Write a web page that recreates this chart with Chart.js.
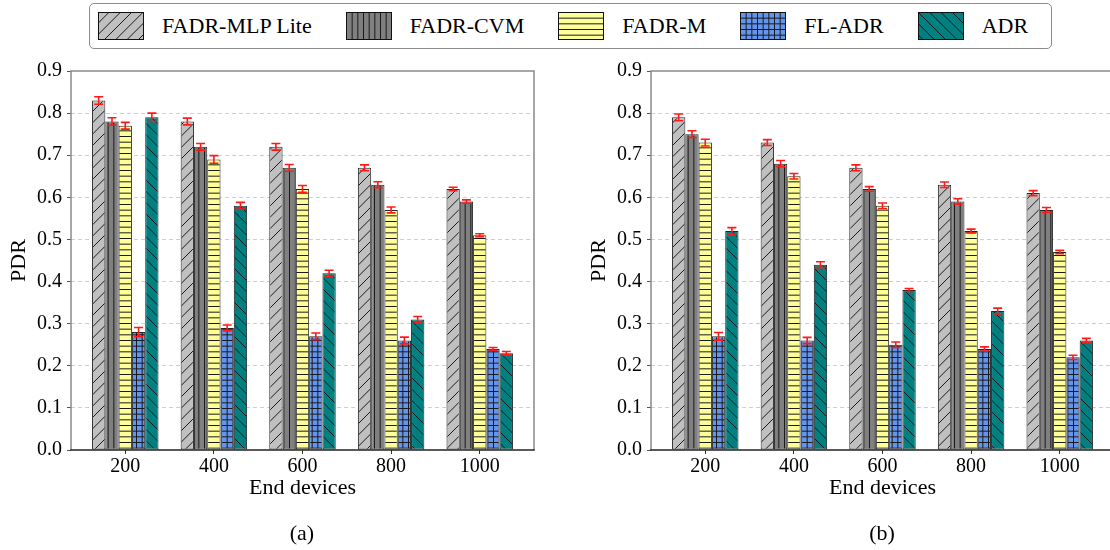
<!DOCTYPE html>
<html>
<head>
<meta charset="utf-8">
<script src="https://cdn.jsdelivr.net/npm/chart.js@4.4.0/dist/chart.umd.min.js"></script>
<style>
  html, body { margin: 0; padding: 0; background: #fff; width: 1110px; height: 550px; overflow: hidden; }
  body { position: relative; font-family: 'Liberation Serif', 'Times New Roman', serif; }
  canvas.chart { position: absolute; top: 0; }
  #legend { position: absolute; left: 89px; top: 3px; width: 953px; height: 44px; border: 1.5px solid #8c8c8c; border-radius: 5px; background: #fff; display: flex; align-items: center; padding-left: 8px; box-sizing: content-box; }
  .item { display: flex; align-items: center; margin-right: 34px; }
  .item canvas { display: block; margin-right: 18px; }
  .item span { font-size: 22px; color: #000; line-height: 1; white-space: nowrap; }
  .cap { position: absolute; top: 520px; width: 100px; text-align: center; font-size: 22px; color: #000; }
</style>
</head>
<body>
<div id="legend"></div>
<canvas id="chartA" class="chart" width="560" height="550" style="left:0px"></canvas>
<canvas id="chartB" class="chart" width="560" height="550" style="left:580px"></canvas>
<div class="cap" style="left:252px">(a)</div>
<div class="cap" style="left:832px">(b)</div>
<script>
// ---------- data ----------
const categories = [200, 400, 600, 800, 1000];
const seriesNames = ['FADR-MLP Lite', 'FADR-CVM', 'FADR-M', 'FL-ADR', 'ADR'];
const yTickValues = [0, 0.1, 0.2, 0.3, 0.4, 0.5, 0.6, 0.7, 0.8, 0.9];

// (a)
const mlpA = [0.83, 0.78, 0.72, 0.67, 0.62];
const cvmA = [0.78, 0.72, 0.67, 0.63, 0.59];
const mA   = [0.77, 0.69, 0.62, 0.57, 0.51];
const flA  = [0.28, 0.29, 0.27, 0.26, 0.24];
const adrA = [0.79, 0.58, 0.42, 0.31, 0.23];
const mlpAErr = [0.009, 0.008, 0.008, 0.007, 0.004];
const cvmAErr = [0.009, 0.008, 0.008, 0.007, 0.004];
const mAErr   = [0.008, 0.009, 0.008, 0.007, 0.0035];
const flAErr  = [0.011, 0.007, 0.008, 0.008, 0.0035];
const adrAErr = [0.010, 0.008, 0.007, 0.007, 0.004];

// (b)
const mlpB = [0.79, 0.73, 0.67, 0.63, 0.61];
const cvmB = [0.75, 0.68, 0.62, 0.59, 0.57];
const mB   = [0.73, 0.65, 0.58, 0.52, 0.47];
const flB  = [0.27, 0.26, 0.25, 0.24, 0.22];
const adrB = [0.52, 0.44, 0.38, 0.33, 0.26];
const mlpBErr = [0.008, 0.007, 0.007, 0.0065, 0.006];
const cvmBErr = [0.008, 0.0075, 0.0055, 0.0065, 0.006];
const mBErr   = [0.008, 0.0065, 0.0065, 0.0045, 0.004];
const flBErr  = [0.009, 0.0075, 0.0065, 0.005, 0.005];
const adrBErr = [0.008, 0.007, 0.0035, 0.007, 0.005];

// ---------- styles ----------
const fills = ['#c0c0c0', '#808080', '#ffff99', '#6495ed', '#008080'];
const hatchKinds = ['fwd', 'v', 'h', 'grid', 'back'];

function makePattern(bg, kind) {
  const s = 34, n = 6, d = s / n;
  const c = document.createElement('canvas');
  c.width = s; c.height = s;
  const g = c.getContext('2d');
  g.fillStyle = bg; g.fillRect(0, 0, s, s);
  g.strokeStyle = '#1a1a1a'; g.lineWidth = 1;
  g.beginPath();
  if (kind === 'h' || kind === 'grid') {
    for (let k = 0; k < n; k++) { const y = k * d + 0.5; g.moveTo(0, y); g.lineTo(s, y); }
  }
  if (kind === 'v' || kind === 'grid') {
    for (let k = 0; k < n; k++) { const x = k * d + 0.5; g.moveTo(x, 0); g.lineTo(x, s); }
  }
  if (kind === 'fwd') {
    const dd = s / 3;
    for (let k = 0; k <= 6; k++) { const c0 = k * dd; g.moveTo(c0 + 2, -2); g.lineTo(c0 - s - 2, s + 2); }
  }
  if (kind === 'back') {
    const dd = s / 3;
    for (let k = -3; k <= 3; k++) { const c0 = k * dd; g.moveTo(c0 - 2, -2); g.lineTo(c0 + s + 2, s + 2); }
  }
  g.stroke();
  return g.createPattern(c, 'repeat');
}

const FONT = "'Liberation Serif', 'Times New Roman', serif";
Chart.defaults.font.family = FONT;
Chart.defaults.color = '#000';

// legend (HTML)
const legendEl = document.getElementById('legend');
seriesNames.forEach((name, i) => {
  const it = document.createElement('div'); it.className = 'item';
  const cv = document.createElement('canvas'); cv.width = 46; cv.height = 28;
  const g = cv.getContext('2d');
  g.fillStyle = makePattern(fills[i], hatchKinds[i]);
  g.fillRect(0, 0, 46, 28);
  g.strokeStyle = '#111'; g.lineWidth = 1; g.strokeRect(0.5, 0.5, 45, 27);
  const sp = document.createElement('span'); sp.textContent = name;
  it.appendChild(cv); it.appendChild(sp);
  legendEl.appendChild(it);
});

const errorBarPlugin = {
  id: 'errorBars',
  afterDatasetsDraw(chart, args, opts) {
    const { ctx } = chart;
    const yScale = chart.scales.y;
    ctx.save();
    ctx.strokeStyle = '#ff1a1a';
    ctx.lineWidth = 1.6;
    chart.data.datasets.forEach((ds, di) => {
      const meta = chart.getDatasetMeta(di);
      meta.data.forEach((bar, i) => {
        const v = ds.data[i].y, e = ds.errors[i];
        const yt = yScale.getPixelForValue(v + e), yb = yScale.getPixelForValue(v - e);
        const x = bar.x;
        ctx.beginPath();
        ctx.moveTo(x, yt); ctx.lineTo(x, yb);
        ctx.moveTo(x - 4.5, yt); ctx.lineTo(x + 4.5, yt);
        ctx.moveTo(x - 4.5, yb); ctx.lineTo(x + 4.5, yb);
        ctx.stroke();
      });
    });
    ctx.restore();
  }
};

const spinesPlugin = {
  id: 'spines',
  afterDatasetsDraw(chart) {
    const { ctx, chartArea: a } = chart;
    ctx.save();
    ctx.lineWidth = 1.5;
    ctx.strokeStyle = '#8a8a8a';
    ctx.beginPath();
    ctx.moveTo(a.left, a.bottom); ctx.lineTo(a.left, a.top); ctx.lineTo(a.right, a.top); ctx.lineTo(a.right, a.bottom);
    ctx.stroke();
    ctx.strokeStyle = '#222';
    ctx.beginPath();
    ctx.moveTo(a.left - 0.75, a.bottom); ctx.lineTo(a.right + 0.75, a.bottom);
    ctx.stroke();
    ctx.restore();
  }
};

function buildChart(id, seriesVals, seriesErrs) {
  const step = categories[1] - categories[0];
  const pad = 0.6125 * step;
  const datasets = seriesNames.map((name, i) => ({
    label: name,
    data: categories.map((c, j) => ({ x: c, y: seriesVals[i][j] })),
    errors: seriesErrs[i],
    backgroundColor: makePattern(fills[i], hatchKinds[i]),
    borderColor: '#262626',
    borderWidth: 1,
    borderSkipped: false,
    categoryPercentage: 0.75,
    barPercentage: 1.0
  }));
  return new Chart(document.getElementById(id), {
    type: 'bar',
    data: { datasets },
    options: {
      responsive: false,
      animation: false,
      layout: { padding: { top: 71, right: 26, bottom: 0, left: 0 } },
      plugins: { legend: { display: false }, tooltip: { enabled: false } },
      scales: {
        x: {
          type: 'linear',
          offset: false,
          min: categories[0] - pad,
          max: categories[categories.length - 1] + pad,
          afterBuildTicks: (s) => { s.ticks = categories.map(v => ({ value: v })); },
          afterFit: (s) => { s.height = 100; },
          grid: { offset: false, drawOnChartArea: false, drawTicks: true, tickLength: 4, tickColor: '#333', tickWidth: 1 },
          border: { display: false },
          ticks: { autoSkip: false, maxRotation: 0, padding: 1, font: { size: 20, family: FONT }, color: '#000', callback: (v) => String(v) },
          title: { display: true, text: 'End devices', font: { size: 22, family: FONT }, color: '#000', padding: { top: 0, bottom: 49 } }
        },
        y: {
          type: 'linear',
          min: 0, max: 0.9,
          afterBuildTicks: (s) => { s.ticks = yTickValues.map(v => ({ value: v })); },
          afterFit: (s) => { s.width = 71; },
          grid: {
            color: (c) => (c.tick && (c.tick.value === 0 || c.tick.value === 0.9)) ? 'rgba(0,0,0,0)' : '#cfcfcf',
            lineWidth: 1,
            drawTicks: true, tickLength: 4, tickColor: '#555', tickWidth: 1, tickBorderDash: []
          },
          border: { display: false, dash: [4, 3] },
          ticks: { padding: 5, font: { size: 20, family: FONT }, color: '#000', callback: (v) => Number(v).toFixed(1) },
          title: { display: true, text: 'PDR', font: { size: 22, family: FONT }, color: '#000', padding: { top: 6, bottom: 0 } }
        }
      }
    },
    plugins: [errorBarPlugin, spinesPlugin]
  });
}

buildChart('chartA', [mlpA, cvmA, mA, flA, adrA], [mlpAErr, cvmAErr, mAErr, flAErr, adrAErr]);
buildChart('chartB', [mlpB, cvmB, mB, flB, adrB], [mlpBErr, cvmBErr, mBErr, flBErr, adrBErr]);
</script>
</body>
</html>
